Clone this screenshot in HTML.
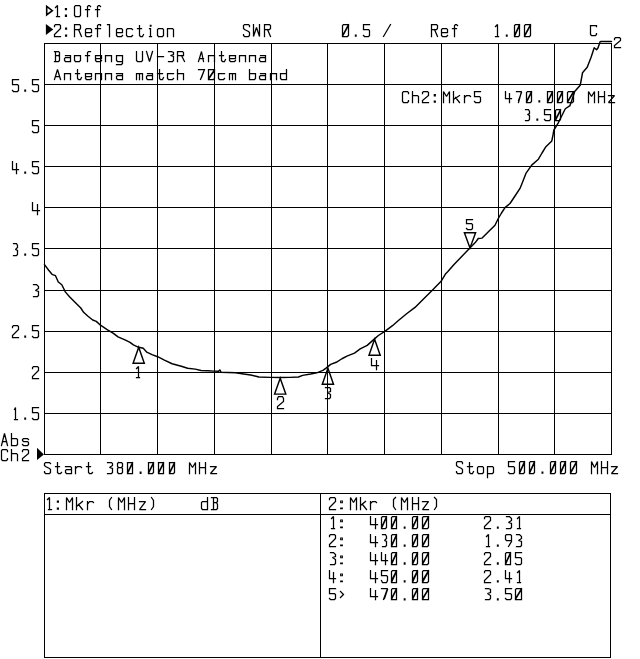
<!DOCTYPE html>
<html lang="en"><head><meta charset="utf-8"><title>SWR - Baofeng UV-3R Antenna</title>
<style>html,body{margin:0;padding:0;background:#fff}body{width:640px;height:659px;overflow:hidden;font-family:"Liberation Mono",monospace}svg{display:block}.t{font-family:"Liberation Mono",monospace;font-size:17px;fill:#000;fill-opacity:0}</style></head><body>
<svg width="640" height="659" viewBox="0 0 640 659">
<rect width="640" height="659" fill="#fff"/>
<g fill="#000" shape-rendering="crispEdges">
<rect x="44" y="43" width="1" height="412"/>
<rect x="44" y="43" width="568" height="1"/>
<rect x="100" y="43" width="1" height="412"/>
<rect x="44" y="84" width="568" height="1"/>
<rect x="157" y="43" width="1" height="412"/>
<rect x="44" y="125" width="568" height="1"/>
<rect x="214" y="43" width="1" height="412"/>
<rect x="44" y="166" width="568" height="1"/>
<rect x="271" y="43" width="1" height="412"/>
<rect x="44" y="207" width="568" height="1"/>
<rect x="327" y="43" width="1" height="412"/>
<rect x="44" y="248" width="568" height="1"/>
<rect x="384" y="43" width="1" height="412"/>
<rect x="44" y="290" width="568" height="1"/>
<rect x="441" y="43" width="1" height="412"/>
<rect x="44" y="331" width="568" height="1"/>
<rect x="498" y="43" width="1" height="412"/>
<rect x="44" y="372" width="568" height="1"/>
<rect x="554" y="43" width="1" height="412"/>
<rect x="44" y="413" width="568" height="1"/>
<rect x="611" y="43" width="1" height="412"/>
<rect x="44" y="454" width="568" height="1"/>
<rect x="44" y="493" width="567" height="1"/>
<rect x="44" y="657" width="567" height="1"/>
<rect x="44" y="493" width="1" height="165"/>
<rect x="610" y="493" width="1" height="165"/>
<rect x="44" y="514" width="567" height="1"/>
<rect x="320" y="493" width="1" height="165"/>
</g>
<path d="M44.5 264.6L48.5 270L52 274.3L55.5 275.7L58.3 282L61.8 284.8L65.3 291.9L69.5 296.8L74.5 301.7L80.8 308L83.6 312.3L88 316.3L92.7 320L96.3 321.4L100.5 325.2L107.5 329.8L113.1 333.1L118 336.9L125 339.8L130 342.3L133.4 344.8L138.6 347.3L143.3 348.3L146.8 352.2L152 354.6L157.6 356.7L164.4 360.2L172.1 363.75L181.3 366.3L187.6 368.25L195.3 369.1L201 370.5L208 370.8L214 371.1L218.6 371.3L219.8 369.9L221 372.2L235.5 372.8L243.6 374L250.7 375L258.9 377L270 377.4L280 377.5L290 377.4L298.5 377L302.6 375.4L310.7 374L316.8 372.8L322.9 370.3L326.4 367.9L330.6 364.4L336.25 362.3L341.9 358.75L347.5 355.9L354.5 353.1L360.2 348.9L367.2 345.4L374.2 339.1L378.4 335.5L384.8 331.3L392.5 325.7L398.1 320.8L406.6 313.75L415 307.4L424 298.5L432.8 289.7L441.1 281.3L445.7 273.7L447.9 271.5L454 264.6L462 256.2L469.9 247.9L475.25 242.6L478.3 238.5L482.1 238.1L488.9 231.2L495 225.2L498.3 218.5L501.5 213L505 207.6L510 203.5L515 196L520 188.4L523 181L525.9 173.4L531.7 165.1L538.4 159.2L542 153L545.9 146.7L551.8 140.9L553 135L553.9 130L558.3 122.8L562.2 115L565.3 108.75L570 105.6L571.6 101L574.7 91.6L580.2 85.3L581.4 79L582.5 72.8L587.2 67.3L591.1 57.2L594.2 47.8L596.6 49.7L598.1 47.8L600 41.9L601 41.5L611.5 41.5" fill="none" stroke="#000" stroke-width="1.45" stroke-linejoin="round" stroke-linecap="round"/>
<path d="M138.7 347.3L133.1 363.2L144.3 363.2ZM280.2 378.2L274.6 394.1L285.8 394.1ZM327.9 368.3L322.3 384.2L333.5 384.2ZM374.6 339.3L369 355.2L380.2 355.2ZM470 248L464.4 232.8L475.6 232.8Z" fill="none" stroke="#000" stroke-width="1.45" stroke-linejoin="miter"/>
<path d="M46.7 6.4L52.3 10.65L46.7 14.9Z" fill="none" stroke="#000" stroke-width="1.6" stroke-linejoin="miter"/>
<path d="M45.9 24.1L53.2 29.6L45.9 35Z" fill="#000"/>
<path d="M37 447.8L43.9 454.4L37 460Z" fill="#000"/>
<path d="M55.5 7.5L57.5 5.5L57.5 16.5M56.5 16.5L59.5 16.5M75.5 16.5L79.5 16.5L80.5 15.5L80.5 6.5L79.5 5.5L75.5 5.5L74.5 6.5L74.5 15.5L75.5 16.5M87.5 16.5L87.5 6.5L88.5 5.5L89.5 5.5L90.5 6.5M85.5 9.5L89.5 9.5M97.5 16.5L97.5 6.5L98.5 5.5L99.5 5.5L100.5 6.5M95.5 9.5L99.5 9.5M54.5 26.5L54.5 25.5L55.5 24.5L59.5 24.5L60.5 25.5L60.5 28.5L54.5 34.5L54.5 36.5L60.5 36.5M74.5 36.5L74.5 24.5L79.5 24.5L80.5 25.5L80.5 28.5L79.5 29.5L74.5 29.5M78.5 29.5L81.5 36.5M85.5 32.5L91.5 32.5L91.5 29.5L90.5 28.5L86.5 28.5L85.5 29.5L85.5 35.5L86.5 36.5L90.5 36.5L91.5 35.5M97.5 36.5L97.5 25.5L98.5 24.5L100.5 24.5L100.5 25.5M95.5 28.5L100.5 28.5M107.5 24.5L109.5 24.5L109.5 36.5M116.5 32.5L122.5 32.5L122.5 29.5L121.5 28.5L117.5 28.5L116.5 29.5L116.5 35.5L117.5 36.5L121.5 36.5L122.5 35.5M132.5 29.5L131.5 28.5L127.5 28.5L126.5 29.5L126.5 35.5L127.5 36.5L131.5 36.5L132.5 35.5M139.5 25.5L139.5 35.5L140.5 36.5L142.5 36.5L143.5 34.5M137.5 28.5L141.5 28.5M149.5 28.5L150.5 28.5L150.5 36.5M149.5 36.5L151.5 36.5M158.5 36.5L162.5 36.5L163.5 35.5L163.5 29.5L162.5 28.5L158.5 28.5L157.5 29.5L157.5 35.5L158.5 36.5M167.5 36.5L167.5 28.5L172.5 28.5L173.5 29.5L173.5 36.5M249.5 26.5L249.5 25.5L248.5 24.5L244.5 24.5L243.5 25.5L243.5 28.5L244.5 29.5L248.5 31.5L249.5 32.5L249.5 35.5L248.5 36.5L244.5 36.5L243.5 35.5L243.5 34.5M253.5 24.5L253.5 36.5L256.5 27.5L259.5 36.5L259.5 24.5M264.5 36.5L264.5 24.5L269.5 24.5L270.5 25.5L270.5 28.5L269.5 29.5L264.5 29.5M267.5 29.5L270.5 36.5M342.5 36.5L347.5 36.5L348.5 35.5L348.5 24.5L343.5 24.5L342.5 25.5L342.5 36.5M342.5 36.5L348.5 25.5M342.5 35.5L348.5 24.5M369.5 24.5L363.5 24.5L363.5 29.5L368.5 29.5L369.5 30.5L369.5 35.5L368.5 36.5L364.5 36.5L363.5 35.5M383.5 36.5L390.5 24.5M431.5 36.5L431.5 24.5L436.5 24.5L437.5 25.5L437.5 28.5L436.5 29.5L431.5 29.5M434.5 29.5L437.5 36.5M441.5 32.5L447.5 32.5L447.5 29.5L446.5 28.5L442.5 28.5L441.5 29.5L441.5 35.5L442.5 36.5L446.5 36.5L447.5 35.5M454.5 36.5L454.5 25.5L455.5 24.5L456.5 24.5L457.5 25.5M452.5 28.5L456.5 28.5M495.5 26.5L497.5 24.5L497.5 36.5M495.5 36.5L498.5 36.5M514.5 36.5L518.5 36.5L519.5 35.5L519.5 24.5L515.5 24.5L514.5 25.5L514.5 36.5M514.5 36.5L519.5 25.5M514.5 35.5L519.5 24.5M524.5 36.5L529.5 36.5L530.5 35.5L530.5 24.5L525.5 24.5L524.5 25.5L524.5 36.5M524.5 36.5L530.5 25.5M524.5 35.5L530.5 24.5M596.5 26.5L596.5 25.5L595.5 25.5L591.5 25.5L590.5 25.5L590.5 34.5L591.5 35.5L595.5 35.5L596.5 34.5L596.5 33.5M54.5 51.5L58.5 51.5L59.5 52.5L59.5 55.5L58.5 55.5L55.5 55.5M58.5 55.5L59.5 56.5L59.5 60.5L58.5 61.5L54.5 61.5M55.5 61.5L55.5 51.5M65.5 55.5L69.5 55.5L70.5 55.5L70.5 61.5M70.5 57.5L65.5 57.5L64.5 58.5L64.5 60.5L65.5 61.5L70.5 61.5M75.5 61.5L79.5 61.5L80.5 60.5L80.5 55.5L79.5 55.5L75.5 55.5L74.5 55.5L74.5 60.5L75.5 61.5M87.5 61.5L87.5 52.5L88.5 51.5L89.5 51.5L90.5 51.5M85.5 55.5L89.5 55.5M95.5 58.5L101.5 58.5L101.5 55.5L100.5 55.5L96.5 55.5L95.5 55.5L95.5 60.5L96.5 61.5L100.5 61.5L101.5 60.5M105.5 61.5L105.5 55.5L110.5 55.5L111.5 55.5L111.5 61.5M122.5 55.5L117.5 55.5L116.5 55.5L116.5 60.5L117.5 61.5L122.5 61.5M122.5 55.5L122.5 63.5L121.5 64.5L117.5 64.5L116.5 64.5M136.5 51.5L136.5 60.5L137.5 61.5L141.5 61.5L142.5 60.5L142.5 51.5M146.5 51.5L149.5 61.5L152.5 51.5M157.5 56.5L163.5 56.5M168.5 51.5L171.5 51.5L173.5 52.5L173.5 54.5L170.5 55.5L173.5 56.5L173.5 60.5L172.5 61.5L168.5 61.5M177.5 61.5L177.5 51.5L182.5 51.5L183.5 52.5L183.5 55.5L182.5 55.5L177.5 55.5M181.5 55.5L184.5 61.5M198.5 61.5L201.5 51.5L203.5 61.5M199.5 58.5L203.5 58.5M208.5 61.5L208.5 55.5L213.5 55.5L214.5 55.5L214.5 61.5M221.5 51.5L221.5 60.5L222.5 61.5L224.5 61.5L225.5 59.5M219.5 55.5L223.5 55.5M229.5 58.5L235.5 58.5L235.5 55.5L234.5 55.5L230.5 55.5L229.5 55.5L229.5 60.5L230.5 61.5L234.5 61.5L235.5 60.5M239.5 61.5L239.5 55.5L244.5 55.5L245.5 55.5L245.5 61.5M249.5 61.5L249.5 55.5L254.5 55.5L255.5 55.5L255.5 61.5M260.5 55.5L264.5 55.5L265.5 55.5L265.5 61.5M265.5 57.5L260.5 57.5L259.5 58.5L259.5 60.5L260.5 61.5L265.5 61.5M54.5 79.5L57.5 69.5L60.5 79.5M55.5 76.5L59.5 76.5M64.5 79.5L64.5 73.5L69.5 73.5L70.5 73.5L70.5 79.5M77.5 69.5L77.5 78.5L78.5 79.5L80.5 79.5L81.5 77.5M75.5 73.5L79.5 73.5M85.5 76.5L91.5 76.5L91.5 73.5L90.5 73.5L86.5 73.5L85.5 73.5L85.5 78.5L86.5 79.5L90.5 79.5L91.5 78.5M95.5 79.5L95.5 73.5L100.5 73.5L101.5 73.5L101.5 79.5M105.5 79.5L105.5 73.5L110.5 73.5L111.5 73.5L111.5 79.5M116.5 73.5L121.5 73.5L122.5 73.5L122.5 79.5M122.5 75.5L117.5 75.5L116.5 76.5L116.5 78.5L117.5 79.5L122.5 79.5M136.5 79.5L136.5 73.5M136.5 73.5L137.5 73.5L138.5 73.5L139.5 73.5L139.5 79.5M139.5 73.5L140.5 73.5L141.5 73.5L142.5 73.5L142.5 79.5M147.5 73.5L151.5 73.5L152.5 73.5L152.5 79.5M152.5 75.5L147.5 75.5L146.5 76.5L146.5 78.5L147.5 79.5L152.5 79.5M159.5 69.5L159.5 78.5L160.5 79.5L162.5 79.5L163.5 77.5M157.5 73.5L162.5 73.5M173.5 73.5L172.5 73.5L168.5 73.5L167.5 73.5L167.5 78.5L168.5 79.5L172.5 79.5L173.5 78.5M177.5 69.5L177.5 79.5M177.5 73.5L182.5 73.5L183.5 73.5L183.5 79.5M198.5 69.5L204.5 69.5L200.5 79.5M204.5 69.5L201.5 77.5M208.5 79.5L213.5 79.5L214.5 78.5L214.5 69.5L209.5 69.5L208.5 69.5L208.5 79.5M208.5 79.5L214.5 70.5M208.5 78.5L214.5 69.5M224.5 73.5L223.5 73.5L219.5 73.5L218.5 73.5L218.5 78.5L219.5 79.5L223.5 79.5L224.5 78.5M229.5 79.5L229.5 73.5M229.5 73.5L230.5 73.5L231.5 73.5L232.5 73.5L232.5 79.5M232.5 73.5L233.5 73.5L234.5 73.5L235.5 73.5L235.5 79.5M249.5 69.5L249.5 79.5L254.5 79.5L255.5 78.5L255.5 73.5L254.5 73.5L249.5 73.5M260.5 73.5L264.5 73.5L265.5 73.5L265.5 79.5M265.5 75.5L260.5 75.5L259.5 76.5L259.5 78.5L260.5 79.5L265.5 79.5M270.5 79.5L270.5 73.5L275.5 73.5L276.5 73.5L276.5 79.5M286.5 69.5L286.5 79.5L281.5 79.5L280.5 78.5L280.5 73.5L281.5 73.5L286.5 73.5M408.5 93.5L408.5 92.5L407.5 91.5L403.5 91.5L402.5 92.5L402.5 101.5L403.5 102.5L407.5 102.5L408.5 101.5L408.5 100.5M412.5 91.5L412.5 102.5M412.5 95.5L417.5 95.5L418.5 96.5L418.5 102.5M422.5 93.5L422.5 92.5L423.5 91.5L427.5 91.5L428.5 92.5L428.5 95.5L422.5 100.5L422.5 102.5L428.5 102.5M443.5 102.5L443.5 91.5L446.5 96.5L449.5 91.5L449.5 102.5M453.5 102.5L453.5 91.5M459.5 95.5L453.5 99.5M455.5 97.5L459.5 102.5M464.5 102.5L464.5 95.5M464.5 97.5L466.5 95.5L469.5 95.5L470.5 96.5M480.5 91.5L474.5 91.5L474.5 96.5L479.5 96.5L480.5 97.5L480.5 101.5L479.5 102.5L475.5 102.5L474.5 101.5M505.5 91.5L505.5 98.5L511.5 98.5M509.5 93.5L509.5 102.5M516.5 91.5L521.5 91.5L518.5 102.5M521.5 92.5L518.5 100.5M526.5 102.5L530.5 102.5L531.5 101.5L531.5 91.5L527.5 91.5L526.5 92.5L526.5 102.5M526.5 102.5L531.5 92.5M526.5 101.5L531.5 91.5M547.5 102.5L551.5 102.5L552.5 101.5L552.5 91.5L547.5 91.5L547.5 92.5L547.5 102.5M547.5 102.5L552.5 92.5M547.5 101.5L552.5 91.5M557.5 102.5L561.5 102.5L562.5 101.5L562.5 91.5L558.5 91.5L557.5 92.5L557.5 102.5M557.5 102.5L562.5 92.5M557.5 101.5L562.5 91.5M567.5 102.5L572.5 102.5L573.5 101.5L573.5 91.5L568.5 91.5L567.5 92.5L567.5 102.5M567.5 102.5L573.5 92.5M567.5 101.5L573.5 91.5M588.5 102.5L588.5 91.5L591.5 96.5L594.5 91.5L594.5 102.5M598.5 102.5L598.5 91.5M604.5 102.5L604.5 91.5M598.5 96.5L604.5 96.5M608.5 95.5L614.5 95.5L608.5 102.5L614.5 102.5M525.5 109.5L528.5 109.5L529.5 111.5L529.5 113.5L527.5 114.5L529.5 115.5L529.5 119.5L528.5 120.5L525.5 120.5M550.5 109.5L544.5 109.5L544.5 114.5L549.5 114.5L550.5 114.5L550.5 119.5L549.5 120.5L545.5 120.5L544.5 119.5M555.5 120.5L559.5 120.5L560.5 119.5L560.5 109.5L556.5 109.5L555.5 110.5L555.5 120.5M555.5 120.5L560.5 110.5M555.5 119.5L560.5 109.5M18.5 79.5L12.5 79.5L12.5 84.5L17.5 84.5L18.5 85.5L18.5 90.5L17.5 91.5L13.5 91.5L12.5 90.5M38.5 79.5L32.5 79.5L32.5 84.5L37.5 84.5L38.5 85.5L38.5 90.5L37.5 91.5L33.5 91.5L32.5 90.5M38.5 120.5L32.5 120.5L32.5 125.5L37.5 125.5L38.5 126.5L38.5 131.5L37.5 132.5L33.5 132.5L32.5 131.5M12.5 161.5L12.5 169.5L18.5 169.5M16.5 163.5L16.5 173.5M38.5 161.5L32.5 161.5L32.5 166.5L37.5 166.5L38.5 167.5L38.5 172.5L37.5 173.5L33.5 173.5L32.5 172.5M32.5 202.5L32.5 210.5L39.5 210.5M37.5 204.5L37.5 214.5M13.5 243.5L16.5 243.5L17.5 245.5L17.5 247.5L15.5 249.5L17.5 250.5L17.5 254.5L16.5 255.5L13.5 255.5M38.5 243.5L32.5 243.5L32.5 248.5L37.5 248.5L38.5 249.5L38.5 254.5L37.5 255.5L33.5 255.5L32.5 254.5M33.5 284.5L36.5 284.5L38.5 286.5L38.5 288.5L35.5 290.5L38.5 291.5L38.5 295.5L37.5 296.5L33.5 296.5M12.5 327.5L12.5 326.5L13.5 325.5L17.5 325.5L18.5 326.5L18.5 329.5L12.5 335.5L12.5 337.5L18.5 337.5M38.5 325.5L32.5 325.5L32.5 330.5L37.5 330.5L38.5 331.5L38.5 336.5L37.5 337.5L33.5 337.5L32.5 336.5M32.5 368.5L32.5 367.5L33.5 366.5L37.5 366.5L38.5 367.5L38.5 370.5L32.5 376.5L32.5 378.5L38.5 378.5M14.5 409.5L15.5 407.5L15.5 419.5M14.5 419.5L17.5 419.5M38.5 407.5L32.5 407.5L32.5 412.5L37.5 412.5L38.5 413.5L38.5 418.5L37.5 419.5L33.5 419.5L32.5 418.5M1.5 445.5L4.5 433.5L7.5 445.5M2.5 441.5L6.5 441.5M11.5 433.5L11.5 445.5L16.5 445.5L17.5 444.5L17.5 439.5L16.5 438.5L11.5 438.5M28.5 439.5L27.5 438.5L23.5 438.5L22.5 439.5L22.5 440.5L23.5 441.5L27.5 441.5L28.5 442.5L28.5 444.5L27.5 445.5L23.5 445.5L22.5 444.5M7.5 451.5L7.5 450.5L6.5 449.5L2.5 449.5L1.5 450.5L1.5 459.5L2.5 460.5L6.5 460.5L7.5 459.5L7.5 458.5M11.5 449.5L11.5 460.5M11.5 453.5L16.5 453.5L17.5 454.5L17.5 460.5M22.5 451.5L22.5 450.5L23.5 449.5L27.5 449.5L28.5 450.5L28.5 453.5L22.5 458.5L22.5 460.5L28.5 460.5M50.5 463.5L50.5 463.5L49.5 462.5L45.5 462.5L44.5 463.5L44.5 465.5L45.5 466.5L49.5 468.5L50.5 469.5L50.5 472.5L49.5 473.5L45.5 473.5L44.5 472.5L44.5 471.5M57.5 462.5L57.5 472.5L58.5 473.5L60.5 473.5L61.5 472.5M55.5 466.5L59.5 466.5M65.5 466.5L70.5 466.5L71.5 467.5L71.5 473.5M71.5 469.5L66.5 469.5L65.5 470.5L65.5 472.5L66.5 473.5L71.5 473.5M75.5 473.5L75.5 466.5M75.5 468.5L77.5 466.5L80.5 466.5L81.5 467.5M88.5 462.5L88.5 472.5L89.5 473.5L91.5 473.5L92.5 472.5M86.5 466.5L90.5 466.5M107.5 462.5L111.5 462.5L112.5 463.5L112.5 465.5L109.5 467.5L112.5 468.5L112.5 472.5L111.5 473.5L107.5 473.5M118.5 462.5L121.5 462.5L122.5 463.5L122.5 466.5L121.5 467.5L118.5 467.5L117.5 466.5L117.5 463.5L118.5 462.5M118.5 467.5L117.5 468.5L117.5 472.5L118.5 473.5L121.5 473.5L122.5 472.5L122.5 468.5L121.5 467.5M127.5 473.5L132.5 473.5L132.5 472.5L132.5 462.5L128.5 462.5L127.5 462.5L127.5 473.5M127.5 473.5L132.5 463.5M127.5 472.5L132.5 462.5M148.5 473.5L152.5 473.5L153.5 472.5L153.5 462.5L149.5 462.5L148.5 462.5L148.5 473.5M148.5 473.5L153.5 463.5M148.5 472.5L153.5 462.5M158.5 473.5L163.5 473.5L163.5 472.5L163.5 462.5L159.5 462.5L158.5 462.5L158.5 473.5M158.5 473.5L163.5 463.5M158.5 472.5L163.5 462.5M169.5 473.5L173.5 473.5L174.5 472.5L174.5 462.5L169.5 462.5L169.5 462.5L169.5 473.5M169.5 473.5L174.5 463.5M169.5 472.5L174.5 462.5M189.5 473.5L189.5 462.5L192.5 467.5L195.5 462.5L195.5 473.5M199.5 473.5L199.5 462.5M205.5 473.5L205.5 462.5M199.5 467.5L205.5 467.5M210.5 466.5L216.5 466.5L210.5 473.5L216.5 473.5M462.5 463.5L462.5 462.5L461.5 461.5L457.5 461.5L456.5 462.5L456.5 465.5L457.5 466.5L461.5 468.5L462.5 469.5L462.5 472.5L461.5 473.5L457.5 473.5L456.5 472.5L456.5 471.5M469.5 462.5L469.5 472.5L470.5 473.5L472.5 473.5L473.5 471.5M467.5 466.5L472.5 466.5M478.5 473.5L482.5 473.5L483.5 472.5L483.5 467.5L482.5 466.5L478.5 466.5L477.5 467.5L477.5 472.5L478.5 473.5M487.5 477.5L487.5 466.5L492.5 466.5L493.5 467.5L493.5 472.5L492.5 473.5L487.5 473.5M514.5 461.5L508.5 461.5L508.5 466.5L513.5 466.5L514.5 467.5L514.5 472.5L513.5 473.5L509.5 473.5L508.5 472.5M519.5 473.5L523.5 473.5L524.5 472.5L524.5 461.5L520.5 461.5L519.5 462.5L519.5 473.5M519.5 473.5L524.5 462.5M519.5 472.5L524.5 461.5M529.5 473.5L533.5 473.5L534.5 472.5L534.5 461.5L530.5 461.5L529.5 462.5L529.5 473.5M529.5 473.5L534.5 462.5M529.5 472.5L534.5 461.5M550.5 473.5L554.5 473.5L555.5 472.5L555.5 461.5L551.5 461.5L550.5 462.5L550.5 473.5M550.5 473.5L555.5 462.5M550.5 472.5L555.5 461.5M560.5 473.5L564.5 473.5L565.5 472.5L565.5 461.5L561.5 461.5L560.5 462.5L560.5 473.5M560.5 473.5L565.5 462.5M560.5 472.5L565.5 461.5M570.5 473.5L575.5 473.5L576.5 472.5L576.5 461.5L571.5 461.5L570.5 462.5L570.5 473.5M570.5 473.5L576.5 462.5M570.5 472.5L576.5 461.5M591.5 473.5L591.5 461.5L594.5 467.5L597.5 461.5L597.5 473.5M601.5 473.5L601.5 461.5M607.5 473.5L607.5 461.5M601.5 467.5L607.5 467.5M611.5 466.5L617.5 466.5L611.5 473.5L617.5 473.5M47.5 499.5L49.5 497.5L49.5 509.5M48.5 509.5L51.5 509.5M66.5 509.5L66.5 497.5L69.5 502.5L72.5 497.5L72.5 509.5M76.5 509.5L76.5 497.5M82.5 501.5L76.5 506.5M78.5 504.5L82.5 509.5M87.5 509.5L87.5 501.5M87.5 504.5L89.5 501.5L92.5 501.5L93.5 502.5M111.5 497.5L109.5 500.5L109.5 506.5L111.5 509.5M118.5 509.5L118.5 497.5L121.5 502.5L124.5 497.5L124.5 509.5M128.5 509.5L128.5 497.5M134.5 509.5L134.5 497.5M128.5 503.5L134.5 503.5M139.5 501.5L145.5 501.5L139.5 509.5L145.5 509.5M151.5 497.5L153.5 500.5L153.5 506.5L151.5 509.5M207.5 497.5L207.5 509.5L202.5 509.5L201.5 508.5L201.5 502.5L202.5 501.5L207.5 501.5M211.5 497.5L216.5 497.5L217.5 498.5L217.5 501.5L216.5 502.5L213.5 502.5M216.5 502.5L217.5 504.5L217.5 508.5L216.5 509.5L211.5 509.5M213.5 509.5L213.5 497.5M329.5 499.5L329.5 498.5L330.5 497.5L334.5 497.5L335.5 498.5L335.5 501.5L329.5 507.5L329.5 509.5L335.5 509.5M350.5 509.5L350.5 497.5L353.5 502.5L356.5 497.5L356.5 509.5M360.5 509.5L360.5 497.5M365.5 501.5L360.5 505.5M362.5 504.5L366.5 509.5M370.5 509.5L370.5 501.5M370.5 503.5L372.5 501.5L375.5 501.5L376.5 502.5M395.5 497.5L393.5 499.5L393.5 506.5L395.5 509.5M401.5 509.5L401.5 497.5L404.5 502.5L407.5 497.5L407.5 509.5M412.5 509.5L412.5 497.5M418.5 509.5L418.5 497.5M412.5 503.5L418.5 503.5M422.5 501.5L428.5 501.5L422.5 509.5L428.5 509.5M434.5 497.5L436.5 499.5L436.5 506.5L434.5 509.5M331.5 518.5L333.5 516.5L333.5 528.5M331.5 528.5L334.5 528.5M370.5 516.5L370.5 524.5L377.5 524.5M375.5 518.5L375.5 528.5M381.5 528.5L385.5 528.5L386.5 527.5L386.5 516.5L382.5 516.5L381.5 517.5L381.5 528.5M381.5 528.5L386.5 517.5M381.5 527.5L386.5 516.5M391.5 528.5L396.5 528.5L396.5 527.5L396.5 516.5L392.5 516.5L391.5 517.5L391.5 528.5M391.5 528.5L396.5 517.5M391.5 527.5L396.5 516.5M412.5 528.5L416.5 528.5L417.5 527.5L417.5 516.5L413.5 516.5L412.5 517.5L412.5 528.5M412.5 528.5L417.5 517.5M412.5 527.5L417.5 516.5M422.5 528.5L427.5 528.5L428.5 527.5L428.5 516.5L423.5 516.5L422.5 517.5L422.5 528.5M422.5 528.5L428.5 517.5M422.5 527.5L428.5 516.5M484.5 518.5L484.5 517.5L485.5 516.5L489.5 516.5L490.5 517.5L490.5 520.5L484.5 526.5L484.5 528.5L490.5 528.5M506.5 516.5L509.5 516.5L511.5 518.5L511.5 520.5L508.5 522.5L511.5 523.5L511.5 527.5L510.5 528.5L506.5 528.5M517.5 518.5L519.5 516.5L519.5 528.5M517.5 528.5L520.5 528.5M329.5 536.5L329.5 535.5L330.5 534.5L334.5 534.5L335.5 535.5L335.5 538.5L329.5 544.5L329.5 546.5L335.5 546.5M370.5 534.5L370.5 542.5L377.5 542.5M375.5 536.5L375.5 546.5M382.5 534.5L385.5 534.5L386.5 536.5L386.5 538.5L384.5 540.5L386.5 541.5L386.5 545.5L385.5 546.5L382.5 546.5M391.5 546.5L396.5 546.5L396.5 545.5L396.5 534.5L392.5 534.5L391.5 535.5L391.5 546.5M391.5 546.5L396.5 535.5M391.5 545.5L396.5 534.5M412.5 546.5L416.5 546.5L417.5 545.5L417.5 534.5L413.5 534.5L412.5 535.5L412.5 546.5M412.5 546.5L417.5 535.5M412.5 545.5L417.5 534.5M422.5 546.5L427.5 546.5L428.5 545.5L428.5 534.5L423.5 534.5L422.5 535.5L422.5 546.5M422.5 546.5L428.5 535.5M422.5 545.5L428.5 534.5M486.5 536.5L488.5 534.5L488.5 546.5M486.5 546.5L489.5 546.5M511.5 540.5L506.5 540.5L505.5 539.5L505.5 535.5L506.5 534.5L510.5 534.5L511.5 535.5L511.5 541.5L508.5 546.5M516.5 534.5L519.5 534.5L521.5 536.5L521.5 538.5L518.5 540.5L521.5 541.5L521.5 545.5L520.5 546.5L516.5 546.5M330.5 552.5L333.5 552.5L335.5 554.5L335.5 556.5L332.5 557.5L335.5 559.5L335.5 563.5L334.5 564.5L330.5 564.5M370.5 552.5L370.5 560.5L377.5 560.5M375.5 554.5L375.5 564.5M381.5 552.5L381.5 560.5L387.5 560.5M385.5 554.5L385.5 564.5M391.5 564.5L396.5 564.5L396.5 563.5L396.5 552.5L392.5 552.5L391.5 553.5L391.5 564.5M391.5 564.5L396.5 553.5M391.5 563.5L396.5 552.5M412.5 564.5L416.5 564.5L417.5 563.5L417.5 552.5L413.5 552.5L412.5 553.5L412.5 564.5M412.5 564.5L417.5 553.5M412.5 563.5L417.5 552.5M422.5 564.5L427.5 564.5L428.5 563.5L428.5 552.5L423.5 552.5L422.5 553.5L422.5 564.5M422.5 564.5L428.5 553.5M422.5 563.5L428.5 552.5M484.5 554.5L484.5 553.5L485.5 552.5L489.5 552.5L490.5 553.5L490.5 556.5L484.5 562.5L484.5 564.5L490.5 564.5M505.5 564.5L510.5 564.5L510.5 563.5L510.5 552.5L506.5 552.5L505.5 553.5L505.5 564.5M505.5 564.5L510.5 553.5M505.5 563.5L510.5 552.5M521.5 552.5L515.5 552.5L515.5 557.5L520.5 557.5L521.5 558.5L521.5 563.5L520.5 564.5L516.5 564.5L515.5 563.5M329.5 570.5L329.5 578.5L335.5 578.5M333.5 572.5L333.5 582.5M370.5 570.5L370.5 578.5L377.5 578.5M375.5 572.5L375.5 582.5M387.5 570.5L381.5 570.5L381.5 575.5L386.5 575.5L387.5 576.5L387.5 580.5L386.5 582.5L382.5 582.5L381.5 580.5M391.5 582.5L396.5 582.5L396.5 581.5L396.5 570.5L392.5 570.5L391.5 571.5L391.5 582.5M391.5 582.5L396.5 571.5M391.5 580.5L396.5 570.5M412.5 582.5L416.5 582.5L417.5 581.5L417.5 570.5L413.5 570.5L412.5 571.5L412.5 582.5M412.5 582.5L417.5 571.5M412.5 580.5L417.5 570.5M422.5 582.5L427.5 582.5L428.5 581.5L428.5 570.5L423.5 570.5L422.5 571.5L422.5 582.5M422.5 582.5L428.5 571.5M422.5 580.5L428.5 570.5M484.5 572.5L484.5 571.5L485.5 570.5L489.5 570.5L490.5 571.5L490.5 574.5L484.5 580.5L484.5 582.5L490.5 582.5M505.5 570.5L505.5 578.5L511.5 578.5M509.5 572.5L509.5 582.5M517.5 572.5L519.5 570.5L519.5 582.5M517.5 582.5L520.5 582.5M335.5 588.5L329.5 588.5L329.5 593.5L334.5 593.5L335.5 594.5L335.5 598.5L334.5 599.5L330.5 599.5L329.5 598.5M340.5 591.5L343.5 594.5L340.5 597.5M370.5 588.5L370.5 596.5L377.5 596.5M375.5 590.5L375.5 599.5M381.5 588.5L387.5 588.5L383.5 599.5M387.5 589.5L384.5 598.5M391.5 599.5L396.5 599.5L396.5 599.5L396.5 588.5L392.5 588.5L391.5 589.5L391.5 599.5M391.5 599.5L396.5 589.5M391.5 598.5L396.5 588.5M412.5 599.5L416.5 599.5L417.5 599.5L417.5 588.5L413.5 588.5L412.5 589.5L412.5 599.5M412.5 599.5L417.5 589.5M412.5 598.5L417.5 588.5M422.5 599.5L427.5 599.5L428.5 599.5L428.5 588.5L423.5 588.5L422.5 589.5L422.5 599.5M422.5 599.5L428.5 589.5M422.5 598.5L428.5 588.5M485.5 588.5L488.5 588.5L490.5 589.5L490.5 592.5L487.5 593.5L490.5 595.5L490.5 598.5L489.5 599.5L485.5 599.5M511.5 588.5L505.5 588.5L505.5 593.5L510.5 593.5L511.5 594.5L511.5 598.5L510.5 599.5L506.5 599.5L505.5 598.5M515.5 599.5L520.5 599.5L521.5 599.5L521.5 588.5L516.5 588.5L515.5 589.5L515.5 599.5M515.5 599.5L521.5 589.5M515.5 598.5L521.5 588.5M136.5 368.5L138.5 366.5L138.5 377.5M136.5 377.5L139.5 377.5M277.5 399.5L277.5 398.5L278.5 396.5L282.5 396.5L283.5 398.5L283.5 401.5L277.5 406.5L277.5 408.5L283.5 408.5M325.5 387.5L329.5 387.5L330.5 388.5L330.5 391.5L327.5 392.5L330.5 394.5L330.5 397.5L329.5 398.5L325.5 398.5M371.5 358.5L371.5 365.5L378.5 365.5M376.5 360.5L376.5 369.5M472.5 219.5L466.5 219.5L466.5 223.5L471.5 223.5L472.5 224.5L472.5 228.5L471.5 229.5L467.5 229.5L466.5 228.5M614.5 39.5L614.5 38.5L615.5 37.5L619.5 37.5L620.5 38.5L620.5 40.5L614.5 45.5L614.5 47.5L620.5 47.5" fill="none" stroke="#000" stroke-width="1.25" stroke-linecap="square" stroke-linejoin="miter" stroke-miterlimit="1.6"/>
<path d="M64.85 16.9h2.2v-2.3h-2.2zM64.85 10.2h2.2v-2.3h-2.2zM64.95 36.7h2.2v-2.3h-2.2zM64.95 29.69h2.2v-2.3h-2.2zM149.7 26.63h1.9v-2h-1.9zM354.8 36.7h1.9v-2.3h-1.9zM505.8 36.7h1.9v-2.3h-1.9zM433.7 102.8h2.2v-2.3h-2.2zM433.7 96.38h2.2v-2.3h-2.2zM538.35 102.6h1.9v-2.3h-1.9zM536.35 120.7h1.9v-2.3h-1.9zM24.25 91.8h1.9v-2.3h-1.9zM24.25 173.8h1.9v-2.3h-1.9zM24.25 255.8h1.9v-2.3h-1.9zM24.25 337.8h1.9v-2.3h-1.9zM24.25 419.8h1.9v-2.3h-1.9zM139.65 473.9h1.9v-2.3h-1.9zM541.5 473.8h1.9v-2.3h-1.9zM56.8 509.75h2.2v-2.3h-2.2zM56.8 502.74h2.2v-2.3h-2.2zM340.1 509.2h2.8v-1.8h-2.8zM340.1 503.2h2.8v-2.8h-2.8zM341.1 502.2v-0.8h0.8v0.8zM340.1 528.2h2.8v-1.8h-2.8zM340.1 522.2h2.8v-2.8h-2.8zM341.1 521.2v-0.8h0.8v0.8zM403.7 528.75h1.9v-2.3h-1.9zM496.85 528.75h1.9v-2.3h-1.9zM340.1 546.2h2.8v-1.8h-2.8zM340.1 540.2h2.8v-2.8h-2.8zM341.1 539.2v-0.8h0.8v0.8zM403.7 546.7h1.9v-2.3h-1.9zM496.85 546.7h1.9v-2.3h-1.9zM340.1 564.2h2.8v-1.8h-2.8zM340.1 558.2h2.8v-2.8h-2.8zM341.1 557.2v-0.8h0.8v0.8zM403.7 564.65h1.9v-2.3h-1.9zM496.85 564.65h1.9v-2.3h-1.9zM340.1 582.2h2.8v-1.8h-2.8zM340.1 576.2h2.8v-2.8h-2.8zM341.1 575.2v-0.8h0.8v0.8zM403.7 582.6h1.9v-2.3h-1.9zM496.85 582.6h1.9v-2.3h-1.9zM403.7 600.55h1.9v-2.3h-1.9zM496.85 600.55h1.9v-2.3h-1.9z" fill="#000" fill-rule="evenodd"/>
<g class="t">
<text x="53.3" y="16.3" textLength="51.75" lengthAdjust="spacingAndGlyphs">1:Off</text>
<text x="53.4" y="36.1" textLength="124.2" lengthAdjust="spacingAndGlyphs">2:Reflection</text>
<text x="242.95" y="36.1" textLength="31.05" lengthAdjust="spacingAndGlyphs">SWR</text>
<text x="341.8" y="36.1" textLength="51.75" lengthAdjust="spacingAndGlyphs">0.5 /</text>
<text x="430.75" y="36.1" textLength="31.05" lengthAdjust="spacingAndGlyphs">Ref</text>
<text x="492.8" y="36.1" textLength="41.4" lengthAdjust="spacingAndGlyphs">1.00</text>
<text x="589.7" y="35.9" textLength="10.35" lengthAdjust="spacingAndGlyphs">C</text>
<text x="53.7" y="61" textLength="217.35" lengthAdjust="spacingAndGlyphs">Baofeng UV-3R Antenna</text>
<text x="53.7" y="79" textLength="238.05" lengthAdjust="spacingAndGlyphs">Antenna match 70cm band</text>
<text x="401.45" y="102.2" textLength="82.8" lengthAdjust="spacingAndGlyphs">Ch2:Mkr5</text>
<text x="504.65" y="102" textLength="113.85" lengthAdjust="spacingAndGlyphs">470.000 MHz</text>
<text x="523.35" y="120.1" textLength="41.4" lengthAdjust="spacingAndGlyphs">3.50</text>
<text x="11.35" y="91.2" textLength="31.05" lengthAdjust="spacingAndGlyphs">5.5</text>
<text x="31.85" y="132.2" textLength="10.35" lengthAdjust="spacingAndGlyphs">5</text>
<text x="11.35" y="173.2" textLength="31.05" lengthAdjust="spacingAndGlyphs">4.5</text>
<text x="31.85" y="214.2" textLength="10.35" lengthAdjust="spacingAndGlyphs">4</text>
<text x="11.35" y="255.2" textLength="31.05" lengthAdjust="spacingAndGlyphs">3.5</text>
<text x="31.85" y="296.2" textLength="10.35" lengthAdjust="spacingAndGlyphs">3</text>
<text x="11.35" y="337.2" textLength="31.05" lengthAdjust="spacingAndGlyphs">2.5</text>
<text x="31.85" y="378.2" textLength="10.35" lengthAdjust="spacingAndGlyphs">2</text>
<text x="11.35" y="419.2" textLength="31.05" lengthAdjust="spacingAndGlyphs">1.5</text>
<text x="0.75" y="445.15" textLength="31.05" lengthAdjust="spacingAndGlyphs">Abs</text>
<text x="0.85" y="460.15" textLength="31.05" lengthAdjust="spacingAndGlyphs">Ch2</text>
<text x="43.85" y="473.3" textLength="175.95" lengthAdjust="spacingAndGlyphs">Start 380.000 MHz</text>
<text x="456.05" y="473.2" textLength="165.6" lengthAdjust="spacingAndGlyphs">Stop 500.000 MHz</text>
<text x="45.25" y="509.15" textLength="175.95" lengthAdjust="spacingAndGlyphs">1:Mkr (MHz)    dB</text>
<text x="328.7" y="509" textLength="113.85" lengthAdjust="spacingAndGlyphs">2:Mkr (MHz)</text>
<text x="328.6" y="528.15" textLength="196.65" lengthAdjust="spacingAndGlyphs">1:  400.00     2.31</text>
<text x="328.6" y="546.1" textLength="196.65" lengthAdjust="spacingAndGlyphs">2:  430.00     1.93</text>
<text x="328.6" y="564.05" textLength="196.65" lengthAdjust="spacingAndGlyphs">3:  440.00     2.05</text>
<text x="328.6" y="582" textLength="196.65" lengthAdjust="spacingAndGlyphs">4:  450.00     2.41</text>
<text x="328.6" y="599.95" textLength="196.65" lengthAdjust="spacingAndGlyphs">5&gt;  470.00     3.50</text>
</g>
</svg></body></html>
